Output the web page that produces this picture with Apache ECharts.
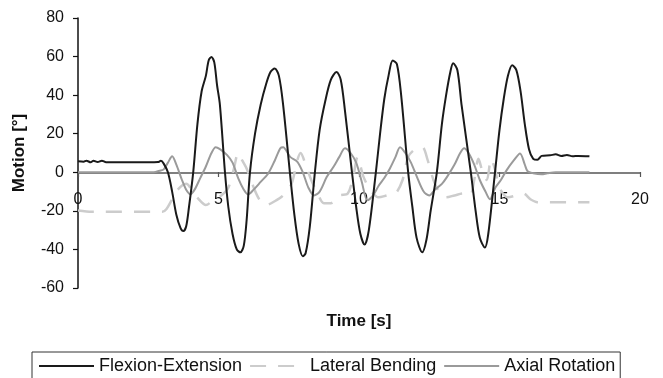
<!DOCTYPE html>
<html>
<head>
<meta charset="utf-8">
<script src="https://cdn.jsdelivr.net/npm/echarts@6/dist/echarts.min.js"></script>
<style>html,body{margin:0;padding:0;background:#fff;}#c{width:663px;height:378px;}</style>
</head>
<body>
<div id="c"></div>
<script>
var seriesNames = ['Flexion-Extension', 'Lateral Bending', 'Axial Rotation'];
var xTicks = [0, 5, 10, 15, 20];
var yTicks = [-60, -40, -20, 0, 20, 40, 60, 80];

var feTime = [0,0.2,0.3,0.45,0.55,0.7,0.85,1.0,1.5,2.0,2.5,2.85,2.95,3.05,3.2,3.35,3.5,3.65,3.75,3.85,3.95,4.1,4.25,4.4,4.55,4.65,4.75,4.85,4.95,5.05,5.23,5.35,5.5,5.65,5.78,5.9,6.0,6.12,6.3,6.5,6.7,6.85,7.0,7.15,7.3,7.54,7.7,7.85,8.0,8.1,8.25,8.43,8.6,8.8,9.0,9.2,9.35,9.5,9.75,9.9,10.05,10.2,10.35,10.6,10.75,10.9,11.05,11.2,11.35,11.5,11.75,11.9,12.05,12.25,12.4,12.55,12.77,12.95,13.1,13.25,13.35,13.5,13.65,13.98,14.15,14.3,14.48,14.6,14.84,15.0,15.15,15.3,15.45,15.6,15.75,15.9,16.05,16.2,16.35,16.5,16.8,17.0,17.2,17.4,17.6,17.8,18.2];
var feValue = [5.7,5.5,6.0,5.2,6.0,5.3,6.0,5.2,5.2,5.2,5.2,5.3,6.0,4.5,0,-10,-22,-29,-30.5,-28,-18,0,25,42,50,58,59.8,57,45,35,0,-18,-32,-40,-41.5,-38,-25,0,20,35,46,52,53.8,50,35,0,-22,-37,-43.5,-42,-28,0,22,37,48,52,48,32,0,-18,-32,-37.5,-30,0,20,38,50,58,56,40,0,-18,-34,-41.5,-35,-20,0,25,40,52,56.5,53,35,0,-20,-34,-39,-32,0,22,38,50,55.5,53,42,25,12,7,6.5,8.5,8.8,9.3,8.5,9.0,8.3,8.5,8.3];

var lbTime = [0,0.5,3.0,3.15,3.35,3.55,3.85,4.05,4.3,4.55,4.85,5.1,5.35,5.55,5.7,5.85,6.0,6.2,6.45,6.7,7.0,7.3,7.6,7.8,7.92,8.1,8.3,8.5,8.75,9.0,9.3,9.6,9.8,9.95,10.15,10.4,10.7,11.0,11.3,11.55,11.75,12.0,12.25,12.45,12.65,12.85,13.1,13.4,13.7,13.95,14.1,14.25,14.4,14.55,14.7,14.85,15.0,15.3,15.6,15.85,16.1,16.35,18.2];
var lbValue = [-19.8,-20.5,-20.5,-19,-14,-9,-6,-9,-14,-17,-14,-12,-8,2,10,6,2,-6,-14,-17,-15,-12,-6,6,10,4,-4,-10,-16,-16,-12,-11,-2,8,-2,-9,-13,-12,-11,-4,8,12,13,6,-4,-10,-13,-12,-11,-12,-4,7,0,-4,7,1,-8,-13,-12,-11,-14,-15.5,-15.5];

var arTime = [0,2.7,2.9,3.05,3.2,3.35,3.5,3.7,3.85,4.0,4.15,4.35,4.55,4.75,4.9,5.05,5.3,5.5,5.7,5.9,6.05,6.25,6.5,6.77,7.0,7.2,7.3,7.55,7.8,8.0,8.2,8.4,8.6,8.85,9.1,9.3,9.5,9.7,9.9,10.1,10.3,10.5,10.7,10.9,11.1,11.3,11.46,11.65,11.85,12.05,12.3,12.5,12.7,12.95,13.15,13.4,13.6,13.74,13.9,14.1,14.3,14.5,14.66,14.85,15.05,15.25,15.5,15.73,15.9,16.0,16.2,16.5,16.7,17.0,18.2];
var arValue = [0,0,0.8,1.5,5,8.3,4,-4,-9,-11.4,-9,-3,3,10,13,12,9,5,-3,-9,-11.5,-9,-5,-0.6,6,12.5,13,8,5.5,0,-8,-12,-10,-2.5,3,8,12.5,10,5,-5,-14.5,-12,-7,-3,2,8,13,10,5,-2,-10,-12,-9,-6,-2,4,10,12.5,10,4,-4,-10,-14,-8,-4,1,6,9.8,4,0.5,-0.5,-1,-0.5,0,0];

function zip(t, v) { return t.map(function (x, i) { return [x, v[i]]; }); }

var chart = echarts.init(document.getElementById('c'), null, {renderer: 'canvas'});
var font = 'Liberation Sans, Arial, Helvetica, sans-serif';
var xMin = xTicks[0], xMax = xTicks[xTicks.length - 1];
chart.setOption({
  animation: false,
  backgroundColor: '#fff',
  grid: {left: 78, right: 23, top: 18, bottom: 90, containLabel: false, outerBoundsMode: 'none'},
  legend: {
    data: seriesNames,
    left: 32, top: 352,
    padding: [5, 5, 5, 6],
    itemGap: 7,
    itemWidth: 55, itemHeight: 14,
    itemStyle: {opacity: 0},
    borderColor: '#333', borderWidth: 1,
    textStyle: {fontFamily: font, fontSize: 18, color: '#111'}
  },
  xAxis: [{
    type: 'value', min: xMin, max: xMax, interval: 5,
    name: 'Time [s]', nameLocation: 'middle', nameGap: 25,
    nameTextStyle: {fontFamily: font, fontSize: 17, fontWeight: 'bold', color: '#111'},
    axisLine: {onZero: true, lineStyle: {color: '#555', width: 1.5}},
    axisTick: {show: false},
    axisLabel: {show: false},
    splitLine: {show: false}
  }, {
    type: 'value', min: xMin, max: xMax, interval: 5,
    position: 'bottom', offset: -116,
    axisLine: {show: false, onZero: false},
    axisTick: {show: true, inside: false, length: 5, lineStyle: {color: '#555', width: 1.2}},
    axisLabel: {fontFamily: font, fontSize: 16, color: '#111', margin: 20},
    splitLine: {show: false}
  }],
  yAxis: {
    type: 'value', min: yTicks[0], max: yTicks[yTicks.length - 1], interval: 20,
    name: 'Motion [°]', nameLocation: 'middle', nameGap: 50, nameRotate: 90,
    nameTextStyle: {fontFamily: font, fontSize: 17, fontWeight: 'bold', color: '#111'},
    axisLine: {show: true, onZero: false, lineStyle: {color: '#111', width: 1.5}},
    axisTick: {show: true, inside: false, length: 5, lineStyle: {color: '#111', width: 1.2}},
    axisLabel: {fontFamily: font, fontSize: 16, color: '#111', margin: 14},
    splitLine: {show: false}
  },
  series: [
    {
      name: seriesNames[1], type: 'line', data: zip(lbTime, lbValue),
      showSymbol: false, symbol: 'none', smooth: 0.3, z: 2,
      lineStyle: {color: '#cccccc', width: 2.5, type: [16, 12]},
      itemStyle: {color: '#cccccc'}
    },
    {
      name: seriesNames[2], type: 'line', data: zip(arTime, arValue),
      showSymbol: false, symbol: 'none', smooth: 0.3, z: 3,
      lineStyle: {color: '#9a9a9a', width: 2},
      itemStyle: {color: '#9a9a9a'}
    },
    {
      name: seriesNames[0], type: 'line', data: zip(feTime, feValue),
      showSymbol: false, symbol: 'none', smooth: 0.3, z: 4,
      lineStyle: {color: '#1a1a1a', width: 2},
      itemStyle: {color: '#1a1a1a'}
    }
  ]
});
</script>
</body>
</html>
